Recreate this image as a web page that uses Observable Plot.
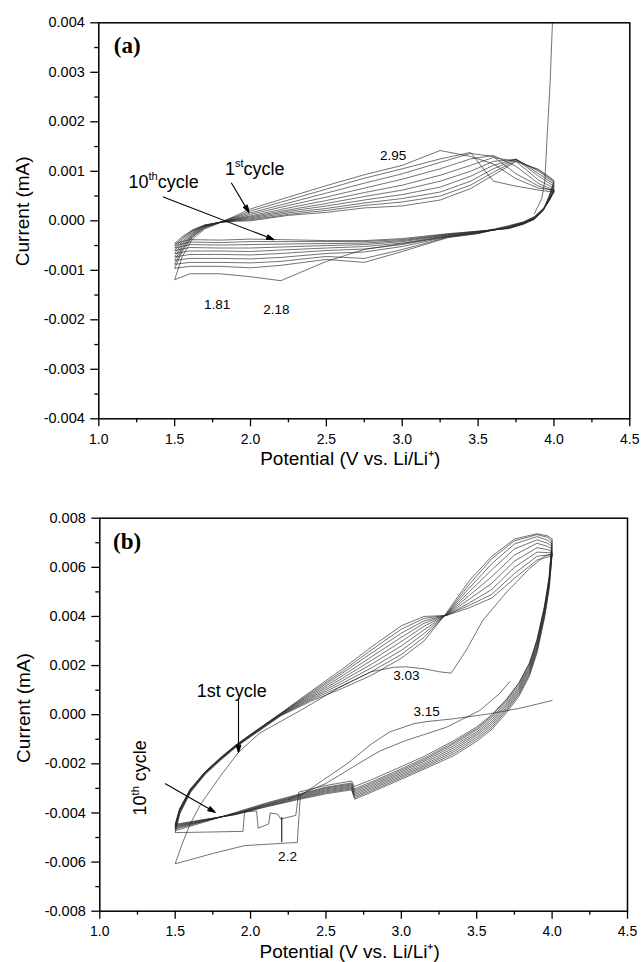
<!DOCTYPE html>
<html><head><meta charset="utf-8">
<script src="https://cdn.jsdelivr.net/npm/d3@7"></script>
<script src="https://cdn.jsdelivr.net/npm/@observablehq/plot@0.6"></script>
<style>
body{margin:0;background:#fff}
svg{display:block}
</style>
</head><body>
<div id="pa"></div><div id="pb"></div>
<script>
// ---------- axes ----------
const xTicks = [1.0, 1.5, 2.0, 2.5, 3.0, 3.5, 4.0, 4.5];
const xTickLabels = ["1.0", "1.5", "2.0", "2.5", "3.0", "3.5", "4.0", "4.5"];
const xMinorTicks = [1.25, 1.75, 2.25, 2.75, 3.25, 3.75, 4.25];
// current in units of 0.001 mA
const yTicksA = [-4, -3, -2, -1, 0, 1, 2, 3, 4];
const yTickLabelsA = ["-0.004", "-0.003", "-0.002", "-0.001", "0.000", "0.001", "0.002", "0.003", "0.004"];
const yMinorA = [-3.5, -2.5, -1.5, -0.5, 0.5, 1.5, 2.5, 3.5];
const yTicksB = [-8, -6, -4, -2, 0, 2, 4, 6, 8];
const yTickLabelsB = ["-0.008", "-0.006", "-0.004", "-0.002", "0.000", "0.002", "0.004", "0.006", "0.008"];
const yMinorB = [-7, -5, -3, -1, 1, 3, 5, 7];
const xTitle = "Potential (V vs. Li/Li\u207A)";
const yTitle = "Current (mA)";

// ---------- panel (a) data ----------
const aCathV = [4.0, 3.97, 3.93, 3.87, 3.8, 3.7, 3.5, 3.3, 3.0, 2.75, 2.5, 2.2, 2.0, 1.8, 1.6, 1.5];
const aCath = [
  [0.60, 0.42, 0.24, 0.08, -0.02, -0.10, -0.24, -0.32, -0.46, -0.58, -0.82, -1.21, -1.13, -1.07, -1.07, -1.19],
  [0.62, 0.43, 0.25, 0.08, -0.03, -0.11, -0.26, -0.34, -0.62, -0.84, -0.78, -0.90, -0.95, -0.92, -0.92, -0.96],
  [0.58, 0.41, 0.23, 0.07, -0.03, -0.12, -0.25, -0.33, -0.58, -0.76, -0.72, -0.82, -0.85, -0.84, -0.84, -0.88],
  [0.60, 0.42, 0.23, 0.06, -0.04, -0.13, -0.25, -0.32, -0.52, -0.63, -0.66, -0.74, -0.77, -0.76, -0.76, -0.80],
  [0.62, 0.43, 0.22, 0.05, -0.04, -0.13, -0.24, -0.31, -0.48, -0.57, -0.60, -0.66, -0.69, -0.68, -0.68, -0.73],
  [0.66, 0.45, 0.22, 0.05, -0.05, -0.14, -0.23, -0.30, -0.45, -0.52, -0.55, -0.59, -0.62, -0.61, -0.61, -0.66],
  [0.70, 0.47, 0.22, 0.04, -0.05, -0.14, -0.22, -0.29, -0.42, -0.48, -0.50, -0.53, -0.55, -0.55, -0.54, -0.60],
  [0.74, 0.49, 0.22, 0.04, -0.06, -0.15, -0.22, -0.28, -0.40, -0.45, -0.46, -0.47, -0.48, -0.49, -0.48, -0.55],
  [0.77, 0.50, 0.21, 0.03, -0.06, -0.15, -0.21, -0.27, -0.38, -0.42, -0.42, -0.42, -0.42, -0.44, -0.43, -0.50],
  [0.80, 0.52, 0.21, 0.03, -0.07, -0.16, -0.21, -0.26, -0.36, -0.40, -0.40, -0.38, -0.37, -0.39, -0.38, -0.46]
];
const aAnoV = [1.5, 1.55, 1.62, 1.7, 1.8, 1.9, 2.0, 2.25, 2.5, 2.75, 3.0, 3.25, 3.45, 3.6, 3.75, 3.9, 4.0];
const aAno = [
  [-1.19, -0.72, -0.36, -0.16, -0.04, 0.10, 0.24, 0.48, 0.71, 0.93, 1.12, 1.42, 1.30, 1.15, 0.85, 0.66, 0.62],
  [-0.96, -0.62, -0.32, -0.14, -0.03, 0.08, 0.20, 0.42, 0.64, 0.86, 1.05, 1.25, 1.38, 0.80, 0.70, 0.62, 0.58],
  [-0.88, -0.58, -0.30, -0.13, -0.03, 0.07, 0.16, 0.36, 0.56, 0.76, 0.95, 1.18, 1.36, 1.30, 0.95, 0.70, 0.60],
  [-0.80, -0.54, -0.28, -0.12, -0.03, 0.05, 0.13, 0.31, 0.48, 0.66, 0.84, 1.05, 1.25, 1.32, 1.10, 0.75, 0.62],
  [-0.73, -0.50, -0.26, -0.11, -0.03, 0.04, 0.10, 0.26, 0.41, 0.57, 0.72, 0.92, 1.12, 1.28, 1.20, 0.82, 0.66],
  [-0.66, -0.46, -0.24, -0.10, -0.03, 0.03, 0.08, 0.22, 0.35, 0.49, 0.62, 0.80, 1.00, 1.20, 1.24, 0.90, 0.70],
  [-0.60, -0.42, -0.22, -0.10, -0.03, 0.02, 0.06, 0.19, 0.30, 0.42, 0.53, 0.68, 0.90, 1.12, 1.25, 0.95, 0.74],
  [-0.55, -0.38, -0.20, -0.09, -0.03, 0.01, 0.04, 0.16, 0.25, 0.36, 0.45, 0.58, 0.80, 1.05, 1.24, 1.00, 0.77],
  [-0.50, -0.35, -0.19, -0.09, -0.03, 0.00, 0.02, 0.13, 0.21, 0.31, 0.38, 0.50, 0.72, 0.98, 1.22, 1.02, 0.80],
  [-0.46, -0.32, -0.18, -0.08, -0.03, -0.01, 0.00, 0.11, 0.17, 0.26, 0.30, 0.42, 0.65, 0.92, 1.20, 1.04, 0.82]
];
// steep trace leaving the top near 4 V
const aSpikeV = [3.87, 3.92, 3.94, 3.956, 3.975, 3.99];
const aSpikeI = [0.14, 0.45, 0.81, 1.76, 2.80, 4.00];

const aNumLabels = ["1.81", "2.18", "2.95"];
const aNumV = [1.78, 2.17, 2.94];
const aNumI = [-1.78, -1.88, 1.22];
const aCycLabels = ["1^st^cycle", "10^th^cycle"];
const aCycV = [2.028, 1.427];
const aCycI = [0.935, 0.663];
const aArrowFrom = [[1.875, 0.76], [1.425, 0.48]];
const aArrowTo = [[1.99, 0.17], [2.154, -0.38]];

// ---------- panel (b) data ----------
const bCathV = [4.0, 3.98, 3.95, 3.9, 3.85, 3.78, 3.7, 3.6, 3.5, 3.35, 3.15, 2.95, 2.8, 2.69, 2.67, 2.5, 2.3, 2.1, 1.9, 1.7, 1.5];
const bCath = [ // cycles 3..10
  [7.15, 5.60, 4.45, 3.05, 2.10, 1.28, 0.62, -0.05, -0.56, -1.12, -1.78, -2.34, -2.74, -3.02, -2.78, -2.95, -3.27, -3.60, -3.98, -4.36, -4.72],
  [7.05, 5.55, 4.40, 2.98, 2.02, 1.20, 0.55, -0.12, -0.62, -1.18, -1.84, -2.40, -2.80, -3.08, -2.82, -2.98, -3.30, -3.63, -4.00, -4.33, -4.66],
  [6.95, 5.48, 4.32, 2.90, 1.95, 1.12, 0.47, -0.20, -0.70, -1.26, -1.90, -2.46, -2.86, -3.14, -2.86, -3.02, -3.33, -3.66, -4.02, -4.32, -4.62],
  [6.85, 5.40, 4.25, 2.82, 1.87, 1.05, 0.40, -0.28, -0.77, -1.34, -1.97, -2.52, -2.92, -3.20, -2.90, -3.06, -3.36, -3.68, -4.03, -4.31, -4.58],
  [6.75, 5.33, 4.18, 2.75, 1.80, 0.98, 0.32, -0.36, -0.84, -1.42, -2.04, -2.58, -2.98, -3.26, -2.94, -3.10, -3.39, -3.70, -4.04, -4.30, -4.55],
  [6.65, 5.25, 4.10, 2.67, 1.72, 0.90, 0.25, -0.44, -0.92, -1.50, -2.10, -2.64, -3.04, -3.32, -2.98, -3.14, -3.42, -3.72, -4.05, -4.28, -4.52],
  [6.58, 5.18, 4.02, 2.60, 1.65, 0.83, 0.18, -0.52, -1.00, -1.58, -2.16, -2.70, -3.10, -3.38, -3.02, -3.18, -3.45, -3.74, -4.06, -4.27, -4.49],
  [6.52, 5.10, 3.95, 2.52, 1.58, 0.75, 0.10, -0.60, -1.08, -1.66, -2.22, -2.76, -3.16, -3.44, -3.06, -3.22, -3.48, -3.76, -4.07, -4.26, -4.46]
];
const bAnoV = [1.5, 1.53, 1.6, 1.7, 1.8, 1.9, 2.0, 2.2, 2.4, 2.6, 2.8, 3.0, 3.15, 3.3, 3.45, 3.6, 3.75, 3.9, 3.97, 4.0];
const bAno = [ // cycles 2..10
  [-4.80, -4.05, -3.18, -2.42, -1.86, -1.34, -0.90, -0.05, 0.55, 1.05, 1.60, 2.30, 3.00, 4.15, 5.45, 6.45, 7.15, 7.37, 7.28, 7.15],
  [-4.72, -4.00, -3.15, -2.40, -1.84, -1.32, -0.88, -0.03, 0.60, 1.15, 1.75, 2.45, 3.15, 4.12, 5.30, 6.35, 7.08, 7.33, 7.22, 7.05],
  [-4.66, -3.96, -3.12, -2.38, -1.82, -1.30, -0.86, -0.01, 0.65, 1.25, 1.90, 2.62, 3.30, 4.10, 5.15, 6.15, 6.95, 7.25, 7.10, 6.95],
  [-4.62, -3.93, -3.10, -2.36, -1.80, -1.29, -0.85, 0.00, 0.70, 1.35, 2.05, 2.80, 3.45, 4.08, 5.00, 5.90, 6.75, 7.12, 6.98, 6.85],
  [-4.58, -3.90, -3.08, -2.35, -1.79, -1.28, -0.84, 0.02, 0.75, 1.45, 2.20, 2.98, 3.60, 4.07, 4.85, 5.62, 6.50, 6.98, 6.85, 6.75],
  [-4.55, -3.88, -3.06, -2.34, -1.78, -1.27, -0.83, 0.03, 0.80, 1.55, 2.35, 3.15, 3.72, 4.06, 4.70, 5.35, 6.25, 6.80, 6.72, 6.65],
  [-4.52, -3.86, -3.05, -2.33, -1.77, -1.26, -0.82, 0.04, 0.85, 1.65, 2.50, 3.32, 3.82, 4.05, 4.55, 5.10, 6.00, 6.62, 6.60, 6.58],
  [-4.49, -3.84, -3.04, -2.32, -1.76, -1.25, -0.81, 0.05, 0.90, 1.73, 2.63, 3.48, 3.92, 4.05, 4.45, 4.90, 5.75, 6.45, 6.50, 6.52],
  [-4.46, -3.82, -3.03, -2.31, -1.75, -1.24, -0.80, 0.06, 0.95, 1.82, 2.75, 3.62, 4.00, 4.04, 4.35, 4.75, 5.55, 6.30, 6.42, 6.48]
];
// cycle 1 (irregular first scan)
const b1CathV = [4.0, 3.8, 3.58, 3.34, 3.17, 3.08, 2.92, 2.8, 2.64, 2.46, 2.33, 2.31, 1.96, 1.75, 1.5];
const b1CathI = [0.58, 0.28, 0.03, -0.17, -0.28, -0.37, -0.71, -1.2, -2.0, -2.75, -3.3, -5.2, -5.33, -5.65, -6.07];
const b1AnoV = [1.5, 1.55, 1.6, 1.67, 1.8, 1.92, 2.06, 2.33, 2.6, 2.8, 2.95, 3.03, 3.15, 3.25, 3.33, 3.43, 3.54, 3.7, 3.85, 3.95, 4.0];
const b1AnoI = [-6.07, -5.2, -4.45, -3.63, -2.5, -1.53, -0.75, 0.17, 1.15, 1.75, 1.93, 1.95, 1.87, 1.75, 1.69, 2.62, 3.84, 5.0, 5.95, 6.45, 6.56];
// cycle 2 cathodic scan with the steps near 2.0-2.3 V
const b2CathV = [4.0, 3.98, 3.95, 3.9, 3.85, 3.78, 3.7, 3.6, 3.5, 3.35, 3.15, 2.95, 2.8, 2.69, 2.67, 2.5, 2.32, 2.3, 2.2, 2.18, 2.13, 2.12, 2.05, 2.04, 1.96, 1.95, 1.7, 1.5];
const b2CathI = [6.56, 5.45, 4.35, 3.05, 2.10, 1.30, 0.65, 0.00, -0.50, -1.05, -1.70, -2.25, -2.65, -2.92, -2.70, -2.88, -3.15, -4.10, -4.25, -4.05, -4.00, -4.45, -4.62, -3.92, -3.96, -4.75, -4.78, -4.80];
// extra branch joining the right-hand bundle
const bExtraV = [2.25, 2.5, 2.7, 2.86, 3.03, 3.3, 3.52, 3.65, 3.72];
const bExtraI = [-3.45, -2.8, -2.05, -1.47, -1.05, -0.51, 0.17, 0.85, 1.35];

const bNumLabels = ["2.2", "3.03", "3.15"];
const bNumV = [2.245, 3.034, 3.167];
const bNumI = [-5.94, 1.43, -0.07];
const bArrowFrom = [[1.92, 0.65], [1.435, -2.81]];
const bArrowTo = [[1.92, -1.53], [1.765, -3.97]];
const bRuleV = [2.207];
const bRuleI1 = [-4.17];
const bRuleI2 = [-5.19];

// ---------- build rows ----------
function pts(c, V, I) { return V.map((v, k) => ({cycle: c, v, i: I[k]})); }
const rowsA = [];
aCath.forEach((row, c) => { rowsA.push(...pts(c + 1, aCathV, row), ...pts(c + 1, aAnoV, aAno[c])); });
rowsA.push(...pts("spike", aSpikeV, aSpikeI));

const rowsB = [];
rowsB.push(...pts(1, b1CathV, b1CathI), ...pts(1, b1AnoV, b1AnoI));
rowsB.push(...pts(2, b2CathV, b2CathI), ...pts(2, bAnoV, bAno[0]));
bCath.forEach((row, k) => { rowsB.push(...pts(k + 3, bCathV, row), ...pts(k + 3, bAnoV, bAno[k + 1])); });
rowsB.push(...pts("extra", bExtraV, bExtraI));

const FONT = "'Liberation Sans', Arial, Helvetica, sans-serif";
const xFmt = new Map(xTicks.map((t, k) => [t, xTickLabels[k]]));

function axes(yTicks, yLabels, yMinor) {
  const yFmt = new Map(yTicks.map((t, k) => [t, yLabels[k]]));
  return [
    Plot.axisX({ticks: xMinorTicks, tickSize: 4, tickFormat: () => "", label: null, strokeWidth: 1.3}),
    Plot.axisX({ticks: xTicks, tickSize: 8, tickPadding: 7, tickFormat: d => xFmt.get(d), label: null, strokeWidth: 1.3, fontSize: 14}),
    Plot.axisY({ticks: yMinor, tickSize: 4, tickFormat: () => "", label: null, strokeWidth: 1.3}),
    Plot.axisY({ticks: yTicks, tickSize: 8, tickPadding: 6, tickFormat: d => yFmt.get(d), label: null, strokeWidth: 1.3, fontSize: 14.5})
  ];
}

function titles(ydy) {
  return [
    Plot.text([xTitle], {frameAnchor: "bottom", dy: 46.5, dx: -14, lineAnchor: "bottom", textAnchor: "middle", fontSize: 19, text: d => d}),
    Plot.text([yTitle], {frameAnchor: "left", dx: -70, dy: ydy, rotate: -90, lineAnchor: "bottom", textAnchor: "middle", fontSize: 19, text: d => d})
  ];
}

const lineStyle = {x: "v", y: "i", z: "cycle", stroke: "#262626", strokeWidth: 0.65, clip: true, curve: "linear"};
const arrowStyle = {stroke: "#000", strokeWidth: 1.1, headLength: 10, headAngle: 34};

const plotA = Plot.plot({
  width: 644, height: 470,
  marginTop: 22.3, marginBottom: 51.7, marginLeft: 98.3, marginRight: 14.7,
  x: {domain: [1, 4.5], label: null},
  y: {domain: [-4, 4], label: null},
  style: {fontFamily: FONT, fontSize: "14px", color: "#000", background: "#fff", overflow: "visible"},
  marks: [
    ...axes(yTicksA, yTickLabelsA, yMinorA),
    Plot.line(rowsA, lineStyle),
    Plot.frame({stroke: "#000", strokeWidth: 1.5}),
    ...titles(-9.5),
    Plot.text(["(a)"], {x: 1.187, y: 3.40, text: d => d, fontFamily: "'Liberation Serif', 'Times New Roman', serif", fontWeight: "bold", fontSize: 23, lineAnchor: "bottom", textAnchor: "middle"}),
    Plot.text(aNumLabels, {x: (d, k) => aNumV[k], y: (d, k) => aNumI[k], text: d => d, fontSize: 13.5, lineAnchor: "bottom", textAnchor: "middle"}),
    Plot.text(aCycLabels, {x: (d, k) => aCycV[k], y: (d, k) => aCycI[k], text: d => d, fontSize: 18, lineAnchor: "bottom", textAnchor: "middle"}),
    Plot.arrow(aArrowFrom, {x1: d => d[0], y1: d => d[1], x2: (d, k) => aArrowTo[k][0], y2: (d, k) => aArrowTo[k][1], ...arrowStyle})
  ]
});

const plotB = Plot.plot({
  width: 644, height: 492,
  marginTop: 47.7, marginBottom: 51.3, marginLeft: 99.3, marginRight: 17,
  x: {domain: [1, 4.5], label: null},
  y: {domain: [-8, 8], label: null},
  style: {fontFamily: FONT, fontSize: "14px", color: "#000", background: "#fff", overflow: "visible"},
  marks: [
    ...axes(yTicksB, yTickLabelsB, yMinorB),
    Plot.line(rowsB, lineStyle),
    Plot.frame({stroke: "#000", strokeWidth: 1.5}),
    ...titles(-6.7),
    Plot.text(["(b)"], {x: 1.181, y: 6.76, text: d => d, fontFamily: "'Liberation Serif', 'Times New Roman', serif", fontWeight: "bold", fontSize: 23, lineAnchor: "bottom", textAnchor: "middle"}),
    Plot.text(bNumLabels, {x: (d, k) => bNumV[k], y: (d, k) => bNumI[k], text: d => d, fontSize: 13.5, lineAnchor: "bottom", textAnchor: "middle"}),
    Plot.text(["1st cycle"], {x: 1.876, y: 0.74, text: d => d, fontSize: 18, lineAnchor: "bottom", textAnchor: "middle"}),
    Plot.text(["10^th^ cycle"], {x: 1.309, y: -2.57, text: d => d, fontSize: 18, rotate: -90, lineAnchor: "bottom", textAnchor: "middle"}),
    Plot.arrow(bArrowFrom, {x1: d => d[0], y1: d => d[1], x2: (d, k) => bArrowTo[k][0], y2: (d, k) => bArrowTo[k][1], ...arrowStyle}),
    Plot.link(bRuleV, {x1: d => d, x2: d => d, y1: (d, k) => bRuleI1[k], y2: (d, k) => bRuleI2[k], stroke: "#000", strokeWidth: 1})
  ]
});

// superscripts: "a^sup^b"
function superscripts(svg) {
  d3.select(svg).selectAll("text").each(function () {
    const t = this.textContent;
    if (!t.includes("^")) return;
    const parts = t.split("^");
    const fs = 18;
    const sel = d3.select(this);
    sel.text(null);
    sel.append("tspan").text(parts[0]);
    sel.append("tspan").attr("font-size", fs * 0.62).attr("dy", -fs * 0.42).text(parts[1]);
    sel.append("tspan").attr("dy", fs * 0.42).text(parts[2]);
  });
}
// fill the arrow heads drawn by Plot.arrow
function fillHeads(svg) {
  d3.select(svg).selectAll('g[aria-label="arrow"] path').each(function () {
    const n = (this.getAttribute("d").match(/-?\d*\.?\d+(?:e-?\d+)?/g) || []).map(Number);
    if (n.length < 6) return;
    const [ax, ay, tx, ty, bx, by] = n.slice(-6);
    d3.select(this.parentNode).append("path")
      .attr("d", `M${ax},${ay}L${tx},${ty}L${bx},${by}Z`)
      .attr("fill", "#000").attr("stroke", "#000").attr("stroke-width", 0.8);
  });
}
superscripts(plotA); superscripts(plotB);
fillHeads(plotA); fillHeads(plotB);
document.getElementById("pa").append(plotA);
document.getElementById("pb").append(plotB);
</script>
</body></html>
